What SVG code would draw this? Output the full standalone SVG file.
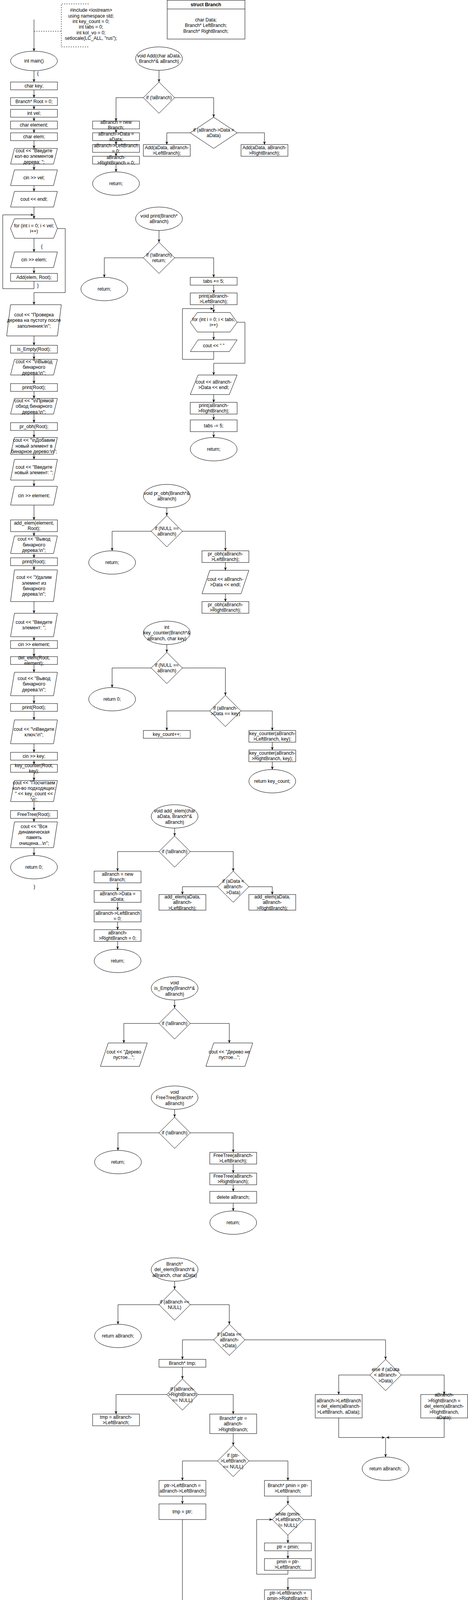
<svg xmlns="http://www.w3.org/2000/svg" width="1198" height="4392" viewBox="0 0 1198 4392">
<defs>
<style>
.s{fill:#fff;stroke:#000;stroke-width:1}
.t{font-family:"Liberation Sans",Arial,sans-serif;font-size:12px;fill:#000;text-anchor:middle}
.b{font-weight:bold}
.c{fill:none;stroke:#000;stroke-width:1;marker-end:url(#a)}
.n{fill:none;stroke:#000;stroke-width:1}
.d{fill:none;stroke:#000;stroke-width:1;stroke-dasharray:3 3}
</style>
<marker id="a" markerUnits="userSpaceOnUse" markerWidth="10" markerHeight="10" viewBox="0 0 10 10" refX="9" refY="5" orient="auto"><path d="M1,1.5 L9,5 L1,8.5 L3.5,5 Z" fill="#000"/></marker>
</defs>
<rect width="1198" height="4392" fill="#fff"/>

<g id="main">
<g id="note"><path class="d" d="M227,10 H157 V120 H227"/><text class="t" x="233" y="30.2"><tspan x="233">#include &lt;iostream&gt;</tspan><tspan x="233" dy="14.4">using namespace std;</tspan><tspan x="233" dy="14.4">int key_count = 0;</tspan><tspan x="233" dy="14.4">int tabs = 0;</tspan><tspan x="233" dy="14.4">int kol_vo = 0;</tspan><tspan x="233" dy="14.4">setlocale(LC_ALL, "rus");</tspan></text></g>
<g id="m0"><ellipse class="s" cx="87" cy="156" rx="60" ry="25"/><text class="t" x="87" y="160.2">int main()</text></g>
<g id="m1"><rect class="s" x="27" y="210" width="120" height="20"/><text class="t" x="87" y="224.2">char key;</text></g>
<g id="m2"><rect class="s" x="27" y="250" width="120" height="20"/><text class="t" x="87" y="264.2">Branch* Root = 0;</text></g>
<g id="m3"><rect class="s" x="27" y="280" width="120" height="20"/><text class="t" x="87" y="294.2">int vel;</text></g>
<g id="m4"><rect class="s" x="27" y="310" width="120" height="20"/><text class="t" x="87" y="324.2">char element;</text></g>
<g id="m5"><rect class="s" x="27" y="340" width="120" height="20"/><text class="t" x="87" y="354.2">char elem;</text></g>
<g id="m6"><polygon class="s" points="37,380 147,380 137,420 27,420"/><text class="t" x="87" y="389.8"><tspan x="87">cout &lt;&lt; "Введите</tspan><tspan x="87" dy="14.4">кол-во элементов</tspan><tspan x="87" dy="14.4">дерева: ";</tspan></text></g>
<g id="m7"><polygon class="s" points="37,435 147,435 137,475 27,475"/><text class="t" x="87" y="459.2">cin &gt;&gt; vel;</text></g>
<g id="m8"><polygon class="s" points="37,490 147,490 137,530 27,530"/><text class="t" x="87" y="514.2">cout &lt;&lt; endl;</text></g>
<g id="m9"><polygon class="s" points="27,585 37,560 137,560 147,585 137,610 37,610"/><text class="t" x="87" y="582"><tspan x="87">for (int i = 0; i &lt; vel;</tspan><tspan x="87" dy="14.4">i++)</tspan></text></g>
<g id="m10"><polygon class="s" points="37,645 147,645 137,685 27,685"/><text class="t" x="87" y="669.2">cin &gt;&gt; elem;</text></g>
<g id="m11"><rect class="s" x="27" y="700" width="120" height="20"/><text class="t" x="87" y="714.2">Add(elem, Root);</text></g>
<g id="m12"><polygon class="s" points="27,780 157,780 147,860 17,860"/><text class="t" x="87" y="809.8"><tspan x="87">cout &lt;&lt; "Проверка</tspan><tspan x="87" dy="14.4">дерева на пустоту после</tspan><tspan x="87" dy="14.4">заполнения:\n";</tspan></text></g>
<g id="m13"><rect class="s" x="27" y="884" width="120" height="20"/><text class="t" x="87" y="898.2">is_Empty(Root);</text></g>
<g id="m14"><polygon class="s" points="37,920 147,920 137,960 27,960"/><text class="t" x="87" y="929.8"><tspan x="87">cout &lt;&lt; "\nВывод</tspan><tspan x="87" dy="14.4">бинарного</tspan><tspan x="87" dy="14.4">дерева:\n";</tspan></text></g>
<g id="m15"><rect class="s" x="27" y="982" width="120" height="20"/><text class="t" x="87" y="996.2">print(Root);</text></g>
<g id="m16"><polygon class="s" points="37,1020 147,1020 137,1060 27,1060"/><text class="t" x="87" y="1029.8"><tspan x="87">cout &lt;&lt; "\nПрямой</tspan><tspan x="87" dy="14.4">обход бинарного</tspan><tspan x="87" dy="14.4">дерева:\n";</tspan></text></g>
<g id="m17"><rect class="s" x="27" y="1082" width="120" height="20"/><text class="t" x="87" y="1096.2">pr_obh(Root);</text></g>
<g id="m18"><polygon class="s" points="37,1120 147,1120 137,1163 27,1163"/><text class="t" x="87" y="1131.3"><tspan x="87">cout &lt;&lt; "\nДобавим</tspan><tspan x="87" dy="14.4">новый элемент в</tspan><tspan x="87" dy="14.4">бинарное дерево:\n";</tspan></text></g>
<g id="m19"><polygon class="s" points="37,1176 147,1176 137,1229 27,1229"/><text class="t" x="87" y="1199.5"><tspan x="87">cout &lt;&lt; "Введите</tspan><tspan x="87" dy="14.4">новый элемент: ";</tspan></text></g>
<g id="m20"><polygon class="s" points="37,1245 147,1245 137,1293 27,1293"/><text class="t" x="87" y="1273.2">cin &gt;&gt; element;</text></g>
<g id="m21"><rect class="s" x="27" y="1331" width="120" height="30"/><text class="t" x="87" y="1343"><tspan x="87">add_elem(element,</tspan><tspan x="87" dy="14.4">Root);</tspan></text></g>
<g id="m22"><polygon class="s" points="37,1372 147,1372 137,1417 27,1417"/><text class="t" x="87" y="1384.3"><tspan x="87">cout &lt;&lt; "Вывод</tspan><tspan x="87" dy="14.4">бинарного</tspan><tspan x="87" dy="14.4">дерева:\n";</tspan></text></g>
<g id="m23"><rect class="s" x="27" y="1428" width="120" height="20"/><text class="t" x="87" y="1442.2">print(Root);</text></g>
<g id="m24"><polygon class="s" points="37,1459 147,1459 137,1540 27,1540"/><text class="t" x="87" y="1482.1"><tspan x="87">cout &lt;&lt; "Удалим</tspan><tspan x="87" dy="14.4">элемент из</tspan><tspan x="87" dy="14.4">бинарного</tspan><tspan x="87" dy="14.4">дерева:\n";</tspan></text></g>
<g id="m25"><polygon class="s" points="37,1570 147,1570 137,1630 27,1630"/><text class="t" x="87" y="1597"><tspan x="87">cout &lt;&lt; "Введите</tspan><tspan x="87" dy="14.4">элемент: ";</tspan></text></g>
<g id="m26"><rect class="s" x="27" y="1640" width="120" height="20"/><text class="t" x="87" y="1654.2">cin &gt;&gt; element;</text></g>
<g id="m27"><rect class="s" x="27" y="1681" width="120" height="20"/><text class="t" x="87" y="1688"><tspan x="87">del_elem(Root,</tspan><tspan x="87" dy="14.4">element);</tspan></text></g>
<g id="m28"><polygon class="s" points="37,1721 147,1721 137,1781 27,1781"/><text class="t" x="87" y="1740.8"><tspan x="87">cout &lt;&lt; "Вывод</tspan><tspan x="87" dy="14.4">бинарного</tspan><tspan x="87" dy="14.4">дерева:\n";</tspan></text></g>
<g id="m29"><rect class="s" x="27" y="1801" width="120" height="20"/><text class="t" x="87" y="1815.2">print(Root);</text></g>
<g id="m30"><polygon class="s" points="37,1843 147,1843 137,1904 27,1904"/><text class="t" x="87" y="1870.5"><tspan x="87">cout &lt;&lt; "\nВведите</tspan><tspan x="87" dy="14.4">ключ:\n";</tspan></text></g>
<g id="m31"><rect class="s" x="27" y="1926" width="120" height="20"/><text class="t" x="87" y="1940.2">cin &gt;&gt; key;</text></g>
<g id="m32"><rect class="s" x="27" y="1957" width="120" height="20"/><text class="t" x="87" y="1964"><tspan x="87">key_counter(Root,</tspan><tspan x="87" dy="14.4">key);</tspan></text></g>
<g id="m33"><polygon class="s" points="37,1998 147,1998 137,2052 27,2052"/><text class="t" x="87" y="2007.6"><tspan x="87">cout &lt;&lt; "Посчитаем</tspan><tspan x="87" dy="14.4">кол-во подходящих:</tspan><tspan x="87" dy="14.4">" &lt;&lt; key_count &lt;&lt;</tspan><tspan x="87" dy="14.4">'\n';</tspan></text></g>
<g id="m34"><rect class="s" x="27" y="2075" width="120" height="20"/><text class="t" x="87" y="2089.2">FreeTree(Root);</text></g>
<g id="m35"><polygon class="s" points="37,2104 147,2104 137,2170 27,2170"/><text class="t" x="87" y="2119.6"><tspan x="87">cout &lt;&lt; "Вся</tspan><tspan x="87" dy="14.4">динамическая</tspan><tspan x="87" dy="14.4">память</tspan><tspan x="87" dy="14.4">очищена...\n";</tspan></text></g>
<g id="m36"><ellipse class="s" cx="87" cy="2220" rx="60" ry="30"/><text class="t" x="87" y="2224.2">return 0;</text></g>
</g>

<g id="struct"><rect class="s" x="428" y="0.5" width="199" height="99.5"/><path class="n" d="M428,23 H627"/><text class="t b" x="527" y="16.2">struct Branch</text><text class="t" x="527" y="54.8"><tspan x="527">char Data;</tspan><tspan x="527" dy="14.4">Branch* LeftBranch;</tspan><tspan x="527" dy="14.4">Branch* RightBranch;</tspan></text></g>

<g id="add">
<g id="a0"><ellipse class="s" cx="407" cy="150" rx="60" ry="30"/><text class="t" x="407" y="147"><tspan x="407">void Add(char aData,</tspan><tspan x="407" dy="14.4">Branch*&amp; aBranch)</tspan></text></g>
<g id="a1"><polygon class="s" points="407,210 447,250 407,290 367,250"/><text class="t" x="407" y="254.2">if (!aBranch)</text></g>
<g id="a2"><rect class="s" x="237" y="310" width="120" height="20"/><text class="t" x="297" y="317"><tspan x="297">aBranch = new</tspan><tspan x="297" dy="14.4">Branch;</tspan></text></g>
<g id="a3"><rect class="s" x="237" y="340" width="120" height="20"/><text class="t" x="297" y="347"><tspan x="297">aBranch-&gt;Data =</tspan><tspan x="297" dy="14.4">aData;</tspan></text></g>
<g id="a4"><rect class="s" x="237" y="370" width="120" height="20"/><text class="t" x="297" y="377"><tspan x="297">aBranch-&gt;LeftBranch</tspan><tspan x="297" dy="14.4">= 0;</tspan></text></g>
<g id="a5"><rect class="s" x="237" y="400" width="120" height="20"/><text class="t" x="297" y="407"><tspan x="297">aBranch-</tspan><tspan x="297" dy="14.4">&gt;RightBranch = 0;</tspan></text></g>
<g id="a6"><ellipse class="s" cx="297" cy="470" rx="60" ry="30"/><text class="t" x="297" y="474.2">return;</text></g>
<g id="a7"><polygon class="s" points="547,300 607,340 547,380 487,340"/><text class="t" x="547" y="337"><tspan x="547">if (aBranch-&gt;Data &gt;</tspan><tspan x="547" dy="14.4">aData)</tspan></text></g>
<g id="a8"><rect class="s" x="367" y="370" width="120" height="30"/><text class="t" x="427" y="382"><tspan x="427">Add(aData, aBranch-</tspan><tspan x="427" dy="14.4">&gt;LeftBranch);</tspan></text></g>
<g id="a9"><rect class="s" x="617" y="370" width="120" height="30"/><text class="t" x="677" y="382"><tspan x="677">Add(aData, aBranch-</tspan><tspan x="677" dy="14.4">&gt;RightBranch);</tspan></text></g>
</g>

<g id="print">
<g id="p0"><ellipse class="s" cx="407" cy="560" rx="60" ry="30"/><text class="t" x="407" y="557"><tspan x="407">void print(Branch*</tspan><tspan x="407" dy="14.4">aBranch)</tspan></text></g>
<g id="p1"><polygon class="s" points="407,620 447,660 407,700 367,660"/><text class="t" x="407" y="657"><tspan x="407">if (!aBranch)</tspan><tspan x="407" dy="14.4">return;</tspan></text></g>
<g id="p2"><ellipse class="s" cx="267" cy="740" rx="60" ry="30"/><text class="t" x="267" y="744.2">return;</text></g>
<g id="p3"><rect class="s" x="487" y="710" width="120" height="20"/><text class="t" x="547" y="724.2">tabs += 5;</text></g>
<g id="p4"><rect class="s" x="487" y="750" width="120" height="30"/><text class="t" x="547" y="762"><tspan x="547">print(aBranch-</tspan><tspan x="547" dy="14.4">&gt;LeftBranch);</tspan></text></g>
<g id="p5"><polygon class="s" points="487,825 505,800 589,800 607,825 589,850 505,850"/><text class="t" x="547" y="822"><tspan x="547">for (int i = 0; i &lt; tabs;</tspan><tspan x="547" dy="14.4">i++)</tspan></text></g>
<g id="p6"><polygon class="s" points="507,870 607,870 587,900 487,900"/><text class="t" x="547" y="889.2">cout &lt;&lt; " "</text></g>
<g id="p7"><polygon class="s" points="507,960 607,960 587,1010 487,1010"/><text class="t" x="547" y="982"><tspan x="547">cout &lt;&lt; aBranch-</tspan><tspan x="547" dy="14.4">&gt;Data &lt;&lt; endl;</tspan></text></g>
<g id="p8"><rect class="s" x="487" y="1030" width="120" height="30"/><text class="t" x="547" y="1042"><tspan x="547">print(aBranch-</tspan><tspan x="547" dy="14.4">&gt;RightBranch);</tspan></text></g>
<g id="p9"><rect class="s" x="487" y="1075" width="120" height="30"/><text class="t" x="547" y="1094.2">tabs -= 5;</text></g>
<g id="p10"><ellipse class="s" cx="547" cy="1150" rx="60" ry="30"/><text class="t" x="547" y="1154.2">return;</text></g>
</g>

<g id="probh">
<g id="o0"><ellipse class="s" cx="427" cy="1270" rx="60" ry="30"/><text class="t" x="427" y="1267"><tspan x="427">void pr_obh(Branch*&amp;</tspan><tspan x="427" dy="14.4">aBranch)</tspan></text></g>
<g id="o1"><polygon class="s" points="427,1320 467,1360 427,1400 387,1360"/><text class="t" x="427" y="1357"><tspan x="427">if (NULL ==</tspan><tspan x="427" dy="14.4">aBranch)</tspan></text></g>
<g id="o2"><ellipse class="s" cx="287" cy="1440" rx="60" ry="30"/><text class="t" x="287" y="1444.2">return;</text></g>
<g id="o3"><rect class="s" x="517" y="1410" width="120" height="30"/><text class="t" x="577" y="1422"><tspan x="577">pr_obh(aBranch-</tspan><tspan x="577" dy="14.4">&gt;LeftBranch);</tspan></text></g>
<g id="o4"><polygon class="s" points="537,1460 637,1460 617,1520 517,1520"/><text class="t" x="577" y="1487"><tspan x="577">cout &lt;&lt; aBranch-</tspan><tspan x="577" dy="14.4">&gt;Data &lt;&lt; endl;</tspan></text></g>
<g id="o5"><rect class="s" x="517" y="1540" width="120" height="30"/><text class="t" x="577" y="1552"><tspan x="577">pr_obh(aBranch-</tspan><tspan x="577" dy="14.4">&gt;RightBranch);</tspan></text></g>
</g>

<g id="keycounter">
<g id="k0"><ellipse class="s" cx="427" cy="1620" rx="60" ry="30"/><text class="t" x="427" y="1609.8"><tspan x="427">int</tspan><tspan x="427" dy="14.4">key_counter(Branch*&amp;</tspan><tspan x="427" dy="14.4">aBranch, char key)</tspan></text></g>
<g id="k1"><polygon class="s" points="427,1670 467,1710 427,1750 387,1710"/><text class="t" x="427" y="1707"><tspan x="427">if (NULL ==</tspan><tspan x="427" dy="14.4">aBranch)</tspan></text></g>
<g id="k2"><ellipse class="s" cx="287" cy="1790" rx="60" ry="30"/><text class="t" x="287" y="1794.2">return 0;</text></g>
<g id="k3"><polygon class="s" points="577,1780 617,1820 577,1860 537,1820"/><text class="t" x="577" y="1817"><tspan x="577">if (aBranch-</tspan><tspan x="577" dy="14.4">&gt;Data == key)</tspan></text></g>
<g id="k4"><rect class="s" x="367" y="1870" width="120" height="20"/><text class="t" x="427" y="1884.2">key_count++;</text></g>
<g id="k5"><rect class="s" x="637" y="1870" width="120" height="30"/><text class="t" x="697" y="1882"><tspan x="697">key_counter(aBranch-</tspan><tspan x="697" dy="14.4">&gt;LeftBranch, key);</tspan></text></g>
<g id="k6"><rect class="s" x="637" y="1920" width="120" height="30"/><text class="t" x="697" y="1932"><tspan x="697">key_counter(aBranch-</tspan><tspan x="697" dy="14.4">&gt;RightBranch, key);</tspan></text></g>
<g id="k7"><ellipse class="s" cx="697" cy="2000" rx="60" ry="30"/><text class="t" x="697" y="2004.2">return key_count;</text></g>
</g>

<g id="addelem">
<g id="e0"><ellipse class="s" cx="447" cy="2090" rx="60" ry="30"/><text class="t" x="447" y="2079.8"><tspan x="447">void add_elem(char</tspan><tspan x="447" dy="14.4">aData, Branch*&amp;</tspan><tspan x="447" dy="14.4">aBranch)</tspan></text></g>
<g id="e1"><polygon class="s" points="447,2140 487,2180 447,2220 407,2180"/><text class="t" x="447" y="2184.2">if (!aBranch)</text></g>
<g id="e2"><rect class="s" x="241" y="2230" width="120" height="30"/><text class="t" x="301" y="2242"><tspan x="301">aBranch = new</tspan><tspan x="301" dy="14.4">Branch;</tspan></text></g>
<g id="e3"><rect class="s" x="241" y="2280" width="120" height="30"/><text class="t" x="301" y="2292"><tspan x="301">aBranch-&gt;Data =</tspan><tspan x="301" dy="14.4">aData;</tspan></text></g>
<g id="e4"><rect class="s" x="241" y="2330" width="120" height="30"/><text class="t" x="301" y="2342"><tspan x="301">aBranch-&gt;LeftBranch</tspan><tspan x="301" dy="14.4">= 0;</tspan></text></g>
<g id="e5"><rect class="s" x="241" y="2380" width="120" height="30"/><text class="t" x="301" y="2392"><tspan x="301">aBranch-</tspan><tspan x="301" dy="14.4">&gt;RightBranch = 0;</tspan></text></g>
<g id="e6"><ellipse class="s" cx="301" cy="2460" rx="60" ry="30"/><text class="t" x="301" y="2464.2">return;</text></g>
<g id="e7"><polygon class="s" points="597,2230 637,2270 597,2310 557,2270"/><text class="t" x="597" y="2259.8"><tspan x="597">if (aData &lt;</tspan><tspan x="597" dy="14.4">aBranch-</tspan><tspan x="597" dy="14.4">&gt;Data)</tspan></text></g>
<g id="e8"><rect class="s" x="407" y="2290" width="120" height="40"/><text class="t" x="467" y="2299.8"><tspan x="467">add_elem(aData,</tspan><tspan x="467" dy="14.4">aBranch-</tspan><tspan x="467" dy="14.4">&gt;LeftBranch);</tspan></text></g>
<g id="e9"><rect class="s" x="637" y="2290" width="120" height="40"/><text class="t" x="697" y="2299.8"><tspan x="697">add_elem(aData,</tspan><tspan x="697" dy="14.4">aBranch-</tspan><tspan x="697" dy="14.4">&gt;RightBranch);</tspan></text></g>
</g>

<g id="isempty">
<g id="i0"><ellipse class="s" cx="447" cy="2530" rx="60" ry="30"/><text class="t" x="447" y="2519.8"><tspan x="447">void</tspan><tspan x="447" dy="14.4">is_Empty(Branch*&amp;</tspan><tspan x="447" dy="14.4">aBranch)</tspan></text></g>
<g id="i1"><polygon class="s" points="447,2580 487,2620 447,2660 407,2620"/><text class="t" x="447" y="2624.2">if (!aBranch)</text></g>
<g id="i2"><polygon class="s" points="277,2670 377,2670 357,2730 257,2730"/><text class="t" x="317" y="2697"><tspan x="317">cout &lt;&lt; "Дерево</tspan><tspan x="317" dy="14.4">пустое...";</tspan></text></g>
<g id="i3"><polygon class="s" points="547,2670 647,2670 627,2730 527,2730"/><text class="t" x="587" y="2697"><tspan x="587">cout &lt;&lt; "Дерево не</tspan><tspan x="587" dy="14.4">пустое...";</tspan></text></g>
</g>

<g id="freetree">
<g id="f0"><ellipse class="s" cx="447" cy="2810" rx="60" ry="30"/><text class="t" x="447" y="2799.8"><tspan x="447">void</tspan><tspan x="447" dy="14.4">FreeTree(Branch*</tspan><tspan x="447" dy="14.4">aBranch)</tspan></text></g>
<g id="f1"><polygon class="s" points="447,2860 487,2900 447,2940 407,2900"/><text class="t" x="447" y="2904.2">if (!aBranch)</text></g>
<g id="f2"><ellipse class="s" cx="302" cy="2975" rx="60" ry="30"/><text class="t" x="302" y="2979.2">return;</text></g>
<g id="f3"><rect class="s" x="537" y="2950" width="120" height="30"/><text class="t" x="597" y="2962"><tspan x="597">FreeTree(aBranch-</tspan><tspan x="597" dy="14.4">&gt;LeftBranch);</tspan></text></g>
<g id="f4"><rect class="s" x="537" y="3003" width="120" height="30"/><text class="t" x="597" y="3015"><tspan x="597">FreeTree(aBranch-</tspan><tspan x="597" dy="14.4">&gt;RightBranch);</tspan></text></g>
<g id="f5"><rect class="s" x="537" y="3050" width="120" height="30"/><text class="t" x="597" y="3069.2">delete aBranch;</text></g>
<g id="f6"><ellipse class="s" cx="597" cy="3130" rx="60" ry="30"/><text class="t" x="597" y="3134.2">return;</text></g>
</g>

<g id="delelem">
<g id="d0"><ellipse class="s" cx="447" cy="3250" rx="60" ry="30"/><text class="t" x="447" y="3239.8"><tspan x="447">Branch*</tspan><tspan x="447" dy="14.4">del_elem(Branch*&amp;</tspan><tspan x="447" dy="14.4">aBranch, char aData)</tspan></text></g>
<g id="d1"><polygon class="s" points="447,3300 487,3340 447,3380 407,3340"/><text class="t" x="447" y="3337"><tspan x="447">if (aBranch ==</tspan><tspan x="447" dy="14.4">NULL)</tspan></text></g>
<g id="d2"><ellipse class="s" cx="302" cy="3420" rx="60" ry="30"/><text class="t" x="302" y="3424.2">return aBranch;</text></g>
<g id="d3"><polygon class="s" points="587,3390 627,3430 587,3470 547,3430"/><text class="t" x="587" y="3419.8"><tspan x="587">if (aData ==</tspan><tspan x="587" dy="14.4">aBranch-</tspan><tspan x="587" dy="14.4">&gt;Data)</tspan></text></g>
<g id="d4"><polygon class="s" points="987,3480 1027,3520 987,3560 947,3520"/><text class="t" x="987" y="3509.8"><tspan x="987">else if (aData</tspan><tspan x="987" dy="14.4">&lt; aBranch-</tspan><tspan x="987" dy="14.4">&gt;Data)</tspan></text></g>
<g id="d5"><rect class="s" x="807" y="3570" width="120" height="60"/><text class="t" x="867" y="3589.8"><tspan x="867">aBranch-&gt;LeftBranch</tspan><tspan x="867" dy="14.4">= del_elem(aBranch-</tspan><tspan x="867" dy="14.4">&gt;LeftBranch, aData);</tspan></text></g>
<g id="d6"><rect class="s" x="1077" y="3570" width="120" height="60"/><text class="t" x="1137" y="3575.4"><tspan x="1137">aBranch-</tspan><tspan x="1137" dy="14.4">&gt;RightBranch =</tspan><tspan x="1137" dy="14.4">del_elem(aBranch-</tspan><tspan x="1137" dy="14.4">&gt;RightBranch,</tspan><tspan x="1137" dy="14.4">aData);</tspan></text></g>
<g id="d7"><ellipse class="s" cx="987" cy="3760" rx="60" ry="30"/><text class="t" x="987" y="3764.2">return aBranch;</text></g>
<g id="d8"><rect class="s" x="407" y="3480" width="120" height="20"/><text class="t" x="467" y="3494.2">Branch* tmp;</text></g>
<g id="d9"><polygon class="s" points="467,3530 507,3570 467,3610 427,3570"/><text class="t" x="467" y="3559.8"><tspan x="467">if (aBranch-</tspan><tspan x="467" dy="14.4">&gt;RightBranch</tspan><tspan x="467" dy="14.4">== NULL)</tspan></text></g>
<g id="d10"><rect class="s" x="237" y="3620" width="120" height="30"/><text class="t" x="297" y="3632"><tspan x="297">tmp = aBranch-</tspan><tspan x="297" dy="14.4">&gt;LeftBranch;</tspan></text></g>
<g id="d11"><rect class="s" x="537" y="3620" width="120" height="50"/><text class="t" x="597" y="3634.8"><tspan x="597">Branch* ptr =</tspan><tspan x="597" dy="14.4">aBranch-</tspan><tspan x="597" dy="14.4">&gt;RightBranch;</tspan></text></g>
<g id="d12"><polygon class="s" points="597,3700 637,3740 597,3780 557,3740"/><text class="t" x="597" y="3729.8"><tspan x="597">if (ptr-</tspan><tspan x="597" dy="14.4">&gt;LeftBranch</tspan><tspan x="597" dy="14.4">== NULL)</tspan></text></g>
<g id="d13"><rect class="s" x="407" y="3790" width="120" height="40"/><text class="t" x="467" y="3807"><tspan x="467">ptr-&gt;LeftBranch =</tspan><tspan x="467" dy="14.4">aBranch-&gt;LeftBranch;</tspan></text></g>
<g id="d14"><rect class="s" x="407" y="3850" width="120" height="40"/><text class="t" x="467" y="3874.2">tmp = ptr;</text></g>
<g id="d15"><rect class="s" x="677" y="3790" width="120" height="40"/><text class="t" x="737" y="3807"><tspan x="737">Branch* pmin = ptr-</tspan><tspan x="737" dy="14.4">&gt;LeftBranch;</tspan></text></g>
<g id="d16"><polygon class="s" points="737,3850 777,3890 737,3930 697,3890"/><text class="t" x="737" y="3879.8"><tspan x="737">while (pmin-</tspan><tspan x="737" dy="14.4">&gt;LeftBranch</tspan><tspan x="737" dy="14.4">!= NULL)</tspan></text></g>
<g id="d17"><rect class="s" x="677" y="3950" width="120" height="20"/><text class="t" x="737" y="3964.2">ptr = pmin;</text></g>
<g id="d18"><rect class="s" x="677" y="3990" width="120" height="30"/><text class="t" x="737" y="4002"><tspan x="737">pmin = ptr-</tspan><tspan x="737" dy="14.4">&gt;LeftBranch;</tspan></text></g>
<g id="d19"><rect class="s" x="677" y="4070" width="120" height="30"/><text class="t" x="737" y="4082"><tspan x="737">ptr-&gt;LeftBranch =</tspan><tspan x="737" dy="14.4">pmin-&gt;RightBranch;</tspan></text></g>
<g id="d20"><rect class="s" x="677" y="4120" width="120" height="40"/><text class="t" x="737" y="4137"><tspan x="737">pmin-&gt;LeftBranch =</tspan><tspan x="737" dy="14.4">aBranch-&gt;LeftBranch;</tspan></text></g>
<g id="d21"><rect class="s" x="677" y="4170" width="120" height="40"/><text class="t" x="737" y="4179.8"><tspan x="737">pmin-&gt;RightBranch =</tspan><tspan x="737" dy="14.4">aBranch-</tspan><tspan x="737" dy="14.4">&gt;RightBranch;</tspan></text></g>
<g id="d22"><rect class="s" x="677" y="4220" width="120" height="20"/><text class="t" x="737" y="4234.2">tmp = pmin;</text></g>
<g id="d23"><rect class="s" x="557" y="4290" width="120" height="20"/><text class="t" x="617" y="4304.2">delete aBranch;</text></g>
<g id="d24"><ellipse class="s" cx="617" cy="4360" rx="60" ry="30"/><text class="t" x="617" y="4364.2">return tmp;</text></g>
</g>

<g id="connectors">
<path class="d" d="M87,80 H157"/>
<path class="c" d="M87,50 V131"/>
<path class="c" d="M87,181 V210"/>
<path class="c" d="M87,230 V250"/>
<path class="c" d="M87,270 V280"/>
<path class="c" d="M87,300 V310"/>
<path class="c" d="M87,330 V340"/>
<path class="c" d="M87,360 V380"/>
<path class="c" d="M87,420 V435"/>
<path class="c" d="M87,475 V490"/>
<path class="c" d="M87,530 V560"/>
<path class="c" d="M87,610 V645"/>
<path class="c" d="M87,685 V700"/>
<path class="c" d="M87,720 V739 H7 V550 H86"/>
<path class="c" d="M147,585 H167 V749 H87 V780"/>
<path class="c" d="M87,860 V884"/>
<path class="c" d="M87,904 V920"/>
<path class="c" d="M87,960 V982"/>
<path class="c" d="M87,1002 V1020"/>
<path class="c" d="M87,1060 V1082"/>
<path class="c" d="M87,1102 V1120"/>
<path class="c" d="M87,1163 V1176"/>
<path class="c" d="M87,1229 V1245"/>
<path class="c" d="M87,1293 V1331"/>
<path class="c" d="M87,1361 V1372"/>
<path class="c" d="M87,1417 V1428"/>
<path class="c" d="M87,1448 V1459"/>
<path class="c" d="M87,1540 V1570"/>
<path class="c" d="M87,1630 V1640"/>
<path class="c" d="M87,1660 V1681"/>
<path class="c" d="M87,1701 V1721"/>
<path class="c" d="M87,1781 V1801"/>
<path class="c" d="M87,1821 V1843"/>
<path class="c" d="M87,1904 V1926"/>
<path class="c" d="M87,1946 V1957"/>
<path class="c" d="M87,1977 V1998"/>
<path class="c" d="M87,2052 V2075"/>
<path class="c" d="M87,2095 V2104"/>
<path class="c" d="M87,2170 V2190"/>
<text class="t" x="97" y="192">{</text>
<text class="t" x="107" y="635">{</text>
<text class="t" x="97" y="735">}</text>
<text class="t" x="88" y="2274">}</text>

<path class="c" d="M407,180 V210"/>
<path class="c" d="M367,250 H297 V310"/>
<path class="c" d="M447,250 H547 V300"/>
<path class="c" d="M297,330 V340"/>
<path class="c" d="M297,360 V370"/>
<path class="c" d="M297,390 V400"/>
<path class="c" d="M297,420 V440"/>
<path class="c" d="M487,340 H427 V370"/>
<path class="c" d="M607,340 H677 V370"/>

<path class="c" d="M407,590 V620"/>
<path class="c" d="M367,660 H267 V710"/>
<path class="c" d="M447,660 H547 V710"/>
<path class="c" d="M547,730 V750"/>
<path class="c" d="M547,780 V800"/>
<path class="c" d="M547,850 V870"/>
<path class="c" d="M547,900 V920 H467 V790 H546"/>
<path class="c" d="M607,825 H627 V930 H547 V960"/>
<path class="c" d="M547,1010 V1030"/>
<path class="c" d="M547,1060 V1075"/>
<path class="c" d="M547,1105 V1120"/>

<path class="c" d="M427,1300 V1320"/>
<path class="c" d="M387,1360 H287 V1410"/>
<path class="c" d="M467,1360 H577 V1410"/>
<path class="c" d="M577,1440 V1460"/>
<path class="c" d="M577,1520 V1540"/>

<path class="c" d="M427,1650 V1670"/>
<path class="c" d="M387,1710 H287 V1760"/>
<path class="c" d="M467,1710 H577 V1780"/>
<path class="c" d="M537,1820 H427 V1870"/>
<path class="c" d="M617,1820 H697 V1870"/>
<path class="c" d="M697,1900 V1920"/>
<path class="c" d="M697,1950 V1970"/>

<path class="c" d="M447,2120 V2140"/>
<path class="c" d="M407,2180 H301 V2230"/>
<path class="c" d="M301,2260 V2280"/>
<path class="c" d="M301,2310 V2330"/>
<path class="c" d="M301,2360 V2380"/>
<path class="c" d="M301,2410 V2430"/>
<path class="c" d="M487,2180 H597 V2230"/>
<path class="c" d="M557,2270 H467 V2290"/>
<path class="c" d="M637,2270 H697 V2290"/>

<path class="c" d="M447,2560 V2580"/>
<path class="c" d="M407,2620 H317 V2670"/>
<path class="c" d="M487,2620 H587 V2670"/>

<path class="c" d="M447,2840 V2860"/>
<path class="c" d="M407,2900 H302 V2945"/>
<path class="c" d="M487,2900 H597 V2950"/>
<path class="c" d="M597,2980 V3003"/>
<path class="c" d="M597,3033 V3050"/>
<path class="c" d="M597,3080 V3100"/>

<path class="c" d="M447,3280 V3300"/>
<path class="c" d="M407,3340 H302 V3390"/>
<path class="c" d="M487,3340 H587 V3390"/>
<path class="c" d="M627,3430 H987 V3480"/>
<path class="c" d="M947,3520 H867 V3570"/>
<path class="c" d="M1027,3520 H1137 V3570"/>
<path class="c" d="M867,3630 V3680 H985"/>
<path class="c" d="M1137,3630 V3680 H989"/>
<path class="c" d="M987,3680 V3730"/>
<path class="c" d="M547,3430 H467 V3480"/>
<path class="c" d="M467,3500 V3530"/>
<path class="c" d="M427,3570 H297 V3620"/>
<path class="c" d="M507,3570 H597 V3620"/>
<path class="c" d="M597,3670 V3700"/>
<path class="c" d="M557,3740 H467 V3790"/>
<path class="c" d="M467,3830 V3850"/>
<path class="c" d="M637,3740 H737 V3790"/>
<path class="c" d="M737,3830 V3850"/>
<path class="c" d="M737,3930 V3950"/>
<path class="c" d="M737,3970 V3990"/>
<path class="c" d="M737,4020 V4030 H657 V3890 H697"/>
<path class="c" d="M777,3890 H807 V4040 H737 V4070"/>
<path class="c" d="M737,4100 V4120"/>
<path class="c" d="M737,4160 V4170"/>
<path class="c" d="M737,4210 V4220"/>
<path class="c" d="M737,4240 V4260 H619"/>
<path class="c" d="M467,3890 V4260 H615"/>
<path class="c" d="M617,4260 V4290"/>
<path class="c" d="M617,4310 V4330"/>
</g>
</svg>
